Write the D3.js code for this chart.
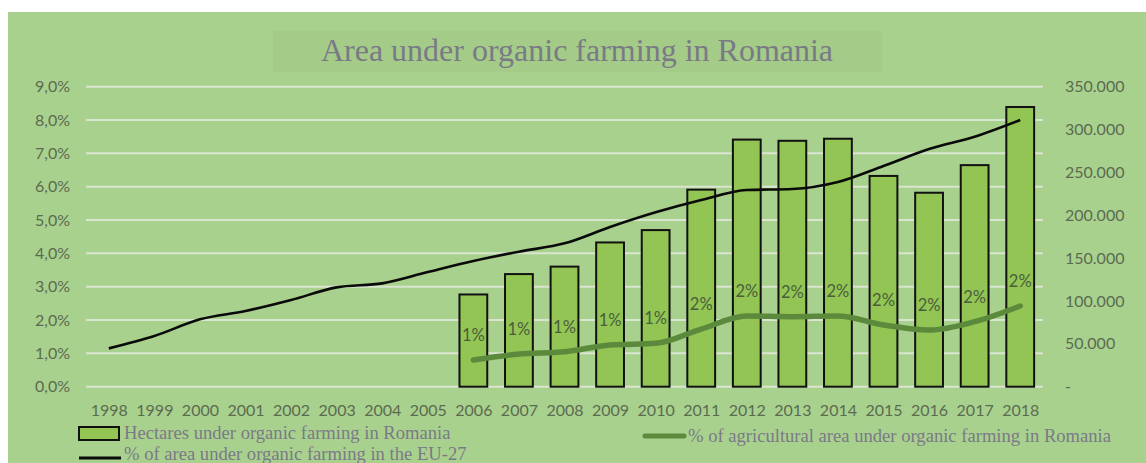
<!DOCTYPE html>
<html>
<head>
<meta charset="utf-8">
<title>Area under organic farming in Romania</title>
<script src="https://cdn.jsdelivr.net/npm/d3@7"></script>
<style>
  body { margin: 0; background: #fff; }
  .tick text { font-family: Lato, "Open Sans", sans-serif; fill: #5b6b50; }
</style>
</head>
<body>
<script>
// data
var years = ["1998","1999","2000","2001","2002","2003","2004","2005","2006","2007","2008",
             "2009","2010","2011","2012","2013","2014","2015","2016","2017","2018"];
var barYears = ["2006","2007","2008","2009","2010","2011","2012","2013","2014","2015","2016","2017","2018"];
var hectares = [107600, 131400, 140100, 168300, 182700, 229900, 288300, 286900, 289300, 245900, 226300, 258500, 326300];
var euShare = [1.15, 1.52, 2.02, 2.27, 2.6, 2.98, 3.1, 3.44, 3.77, 4.05, 4.3, 4.79, 5.23, 5.6, 5.9, 5.93, 6.14, 6.62, 7.13, 7.5, 8.0];
var roShare = [0.8, 0.98, 1.05, 1.25, 1.3, 1.73, 2.12, 2.1, 2.12, 1.85, 1.7, 1.95, 2.42];
var leftTicks = [0, 1, 2, 3, 4, 5, 6, 7, 8, 9];
var rightTicks = [0, 50000, 100000, 150000, 200000, 250000, 300000, 350000];

var width = 1146, height = 463;
var svg = d3.select("body").append("svg")
    .attr("width", width).attr("height", height);

// green panel
svg.append("rect").attr("x", 8).attr("y", 12)
    .attr("width", width - 8).attr("height", height - 12)
    .attr("fill", "#a9d18e");

// title
svg.append("rect").attr("x", 273).attr("y", 31).attr("width", 609).attr("height", 41)
    .attr("fill", "#a4cb88");
svg.append("text").attr("x", 577).attr("y", 61)
    .attr("text-anchor", "middle")
    .style("font-family", "'Liberation Serif', 'DejaVu Serif', serif")
    .style("font-size", "32px").style("fill", "#7a7a86")
    .text("Area under organic farming in Romania");

var x0 = 86, x1 = 1043, yTop = 86.7, yBot = 386.7;

var x = d3.scaleBand().domain(years).range([x0, x1]).paddingInner(0.39).paddingOuter(0.195);
var xc = d3.scalePoint().domain(years).range([x0, x1]).padding(0.5);
var yL = d3.scaleLinear().domain([0, 9]).range([yBot, yTop]);
var yR = d3.scaleLinear().domain([0, 350000]).range([yBot, yTop]);

// gridlines
svg.append("g").selectAll("line").data(leftTicks).enter().append("line")
    .attr("x1", x0).attr("x2", x1)
    .attr("y1", function(d) { return yL(d); }).attr("y2", function(d) { return yL(d); })
    .attr("stroke", "#d9e5cf").attr("stroke-width", 2);

// left axis
var fmtPct = function(d) { return d.toFixed(1).replace(".", ",") + "%"; };
var gl = svg.append("g").attr("transform", "translate(" + 70 + ",0)")
    .call(d3.axisLeft(yL).tickValues(leftTicks).tickFormat(fmtPct).tickSize(0).tickPadding(0));
gl.select(".domain").remove();
gl.selectAll("text").style("font-size", "16px");

// right axis
var fmtHa = function(d) { return d === 0 ? "-" : d3.format(",")(d).replace(/,/g, "."); };
var gr = svg.append("g").attr("transform", "translate(" + 1065 + ",0)")
    .call(d3.axisRight(yR).tickValues(rightTicks).tickFormat(fmtHa).tickSize(0).tickPadding(0));
gr.select(".domain").remove();
gr.selectAll("text").style("font-size", "16px");

// bottom axis
var gb = svg.append("g").attr("transform", "translate(0," + (yBot + 12) + ")")
    .call(d3.axisBottom(xc).tickSize(0).tickPadding(6));
gb.select(".domain").remove();
gb.selectAll("text").style("font-size", "16px");

// bars
svg.append("g").selectAll("rect").data(barYears).enter().append("rect")
    .attr("x", function(d) { return x(d); })
    .attr("width", x.bandwidth())
    .attr("y", function(d, i) { return yR(hectares[i]); })
    .attr("height", function(d, i) { return yBot - yR(hectares[i]); })
    .attr("fill", "#92c553").attr("stroke", "#111").attr("stroke-width", 2);

// EU-27 line
var euLine = d3.line()
    .x(function(d, i) { return xc(years[i]); })
    .y(function(d) { return yL(d); })
    .curve(d3.curveMonotoneX);
svg.append("path").datum(euShare).attr("d", euLine)
    .attr("fill", "none").attr("stroke", "#0a0a0a").attr("stroke-width", 2.6);

// Romania share line
var roLine = d3.line()
    .x(function(d, i) { return xc(barYears[i]); })
    .y(function(d) { return yL(d); })
    .curve(d3.curveMonotoneX);
svg.append("path").datum(roShare).attr("d", roLine)
    .attr("fill", "none").attr("stroke", "#5b8a3c").attr("stroke-width", 5.5)
    .attr("stroke-linecap", "round");

// data labels
svg.append("g").selectAll("text").data(roShare).enter().append("text")
    .attr("x", function(d, i) { return xc(barYears[i]); })
    .attr("y", function(d) { return yL(d) - 19; })
    .attr("text-anchor", "middle")
    .style("font-family", "Lato, 'Open Sans', sans-serif")
    .style("font-size", "16.5px").style("fill", "#4a5e3e")
    .text(function(d) { return d3.format(".0%")(d / 100); });

// legend
var legFont = "'Liberation Serif', 'DejaVu Serif', serif";
var leg = svg.append("g");
leg.append("rect").attr("x", 79).attr("y", 427).attr("width", 40).attr("height", 13)
    .attr("fill", "#92c553").attr("stroke", "#111").attr("stroke-width", 2);
leg.append("text").attr("x", 124).attr("y", 439)
    .style("font-family", legFont).style("font-size", "18.6px").style("fill", "#7a7a86")
    .text("Hectares under organic farming in Romania");
leg.append("line").attr("x1", 79).attr("x2", 121).attr("y1", 458).attr("y2", 458)
    .attr("stroke", "#0a0a0a").attr("stroke-width", 3);
leg.append("text").attr("x", 124).attr("y", 460)
    .style("font-family", legFont).style("font-size", "18.6px").style("fill", "#7a7a86")
    .text("% of area under organic farming in the EU-27");
leg.append("line").attr("x1", 645).attr("x2", 684).attr("y1", 436).attr("y2", 436)
    .attr("stroke", "#5b8a3c").attr("stroke-width", 5).attr("stroke-linecap", "round");
leg.append("text").attr("x", 688).attr("y", 442)
    .style("font-family", legFont).style("font-size", "18.6px").style("fill", "#7a7a86")
    .text("% of agricultural area under organic farming in Romania");
</script>
</body>
</html>
